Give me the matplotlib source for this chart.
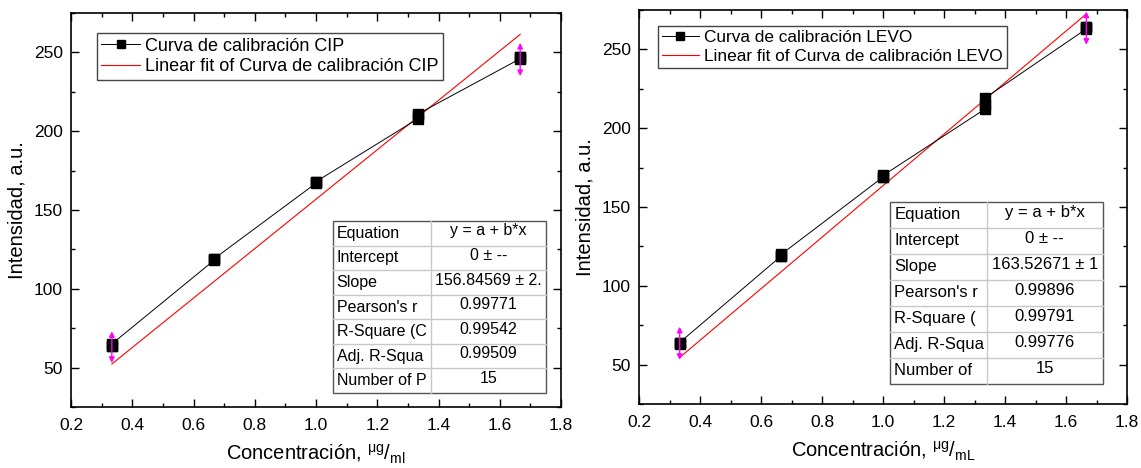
import matplotlib
matplotlib.use("Agg")
import numpy as np
import matplotlib.pyplot as plt
from matplotlib.ticker import MultipleLocator

plt.rcParams['font.family'] = ['Liberation Sans', 'DejaVu Sans']

# concentraciones (ug/mL), 3 replicas por nivel
conc = [1/3, 1/3, 1/3, 2/3, 2/3, 2/3, 1.0, 1.0, 1.0, 4/3, 4/3, 4/3, 5/3, 5/3, 5/3]

cip_int = [64, 64, 65, 118, 119, 119, 167, 168, 168, 208, 210, 211, 246, 247, 247]
levo_int = [63, 64, 64, 119, 119, 120, 169, 169, 170, 212, 215, 219, 263, 264, 264]

cip_slope = 156.84569
levo_slope = 163.52671

# flechas magenta (x, y_inferior, y_superior)
cip_arrows = [(1/3, 53, 73), (5/3, 235, 256)]
levo_arrows = [(1/3, 53, 74), (5/3, 253, 274)]

cip_table = [["Equation", "y = a + b*x"],
             ["Intercept", "0 ± --"],
             ["Slope", "156.84569 ± 2."],
             ["Pearson's r", "0.99771"],
             ["R-Square (C", "0.99542"],
             ["Adj. R-Squa", "0.99509"],
             ["Number of P", "15"]]
levo_table = [["Equation", "y = a + b*x"],
              ["Intercept", "0 ± --"],
              ["Slope", "163.52671 ± 1"],
              ["Pearson's r", "0.99896"],
              ["R-Square (", "0.99791"],
              ["Adj. R-Squa", "0.99776"],
              ["Number of", "15"]]

W, H = 1141, 468
fig = plt.figure(figsize=(W / 100, H / 100), dpi=100)


def px_axes(x0, x1, ytop, ybot):
    return fig.add_axes([x0 / W, (H - ybot) / H, (x1 - x0) / W, (ybot - ytop) / H])


def draw_table(ax, rows, x0, x1, xd, ytop, ybot, fs):
    n = len(rows)
    rh = (ytop - ybot) / n
    tr = ax.transAxes
    ax.add_patch(plt.Rectangle((x0, ybot), x1 - x0, ytop - ybot, transform=tr,
                               facecolor='white', edgecolor='#555555', lw=1.0, zorder=5))
    for i in range(1, n):
        y = ytop - i * rh
        ax.plot([x0, x1], [y, y], transform=tr, color='#c8c8c8', lw=1.0, zorder=6)
    ax.plot([xd, xd], [ybot, ytop], transform=tr, color='#c8c8c8', lw=1.0, zorder=6)
    for i, (a, b) in enumerate(rows):
        yc = ytop - (i + 0.5) * rh
        ax.text(x0 + 0.008, yc, a, transform=tr, ha='left', va='center', fontsize=fs, zorder=7)
        ax.text((xd + x1) / 2, yc + 0.006, b, transform=tr, ha='center', va='center', fontsize=fs, zorder=7)


def panel(ax, y, slope, arrows, name, table, tbox, lbox, unit, lfs, tfs):
    x = np.array(conc)
    ax.plot(x, y, color='black', lw=0.7, marker='s', ms=7, mfc='black', mec='black',
            label=f"Curva de calibración {name}", zorder=3)
    xf = np.array([min(conc), max(conc)])
    ax.plot(xf, slope * xf, color='red', lw=0.8, label=f"Linear fit of Curva de calibración {name}", zorder=2)
    for xa, ylo, yhi in arrows:
        ax.annotate("", xy=(xa, ylo), xytext=(xa, yhi),
                    arrowprops=dict(arrowstyle='<|-|>', color='magenta', lw=1.0,
                                    mutation_scale=8, shrinkA=0, shrinkB=0), zorder=4)
    ax.set_xlim(0.2, 1.8)
    ax.set_ylim(25, 275)
    ax.xaxis.set_major_locator(MultipleLocator(0.2))
    ax.xaxis.set_minor_locator(MultipleLocator(0.1))
    ax.yaxis.set_major_locator(MultipleLocator(50))
    ax.yaxis.set_minor_locator(MultipleLocator(25))
    ax.tick_params(which='both', direction='in', top=True, right=True, labelsize=12.5)
    ax.tick_params(axis='x', pad=8)
    ax.tick_params(axis='y', pad=6)
    ax.tick_params(which='major', length=6, width=1)
    ax.tick_params(which='minor', length=3, width=1)
    for s in ax.spines.values():
        s.set_linewidth(1.2)
    ax.set_ylabel("Intensidad, a.u.", fontsize=14.5, labelpad=5)
    ax.set_xlabel("Concentración, $\\mathregular{^{μg}/_{" + unit + "}}$", fontsize=14.5, labelpad=7)
    leg = ax.legend(loc='upper left', bbox_to_anchor=(lbox[0], lbox[1]), fontsize=lfs,
                    frameon=True, fancybox=False, edgecolor='#444444', framealpha=1,
                    handlelength=2.15, handletextpad=0.3, borderpad=0.25, labelspacing=0.2,
                    borderaxespad=0, markerscale=0.8)
    leg.get_frame().set_linewidth(1.0)
    draw_table(ax, table, *tbox, tfs)


ax1 = px_axes(71, 561, 13, 407)
panel(ax1, cip_int, cip_slope, cip_arrows, "CIP", cip_table,
      (0.534, 0.969, 0.735, 0.472, 0.0355), (0.0525, 0.949), "ml", 13.0, 11.5)

ax2 = px_axes(639, 1127, 10, 404)
panel(ax2, levo_int, levo_slope, levo_arrows, "LEVO", levo_table,
      (0.515, 0.950, 0.713, 0.513, 0.0508), (0.038, 0.960), "mL", 12.4, 12.0)

fig.savefig("out.png", dpi=100)
